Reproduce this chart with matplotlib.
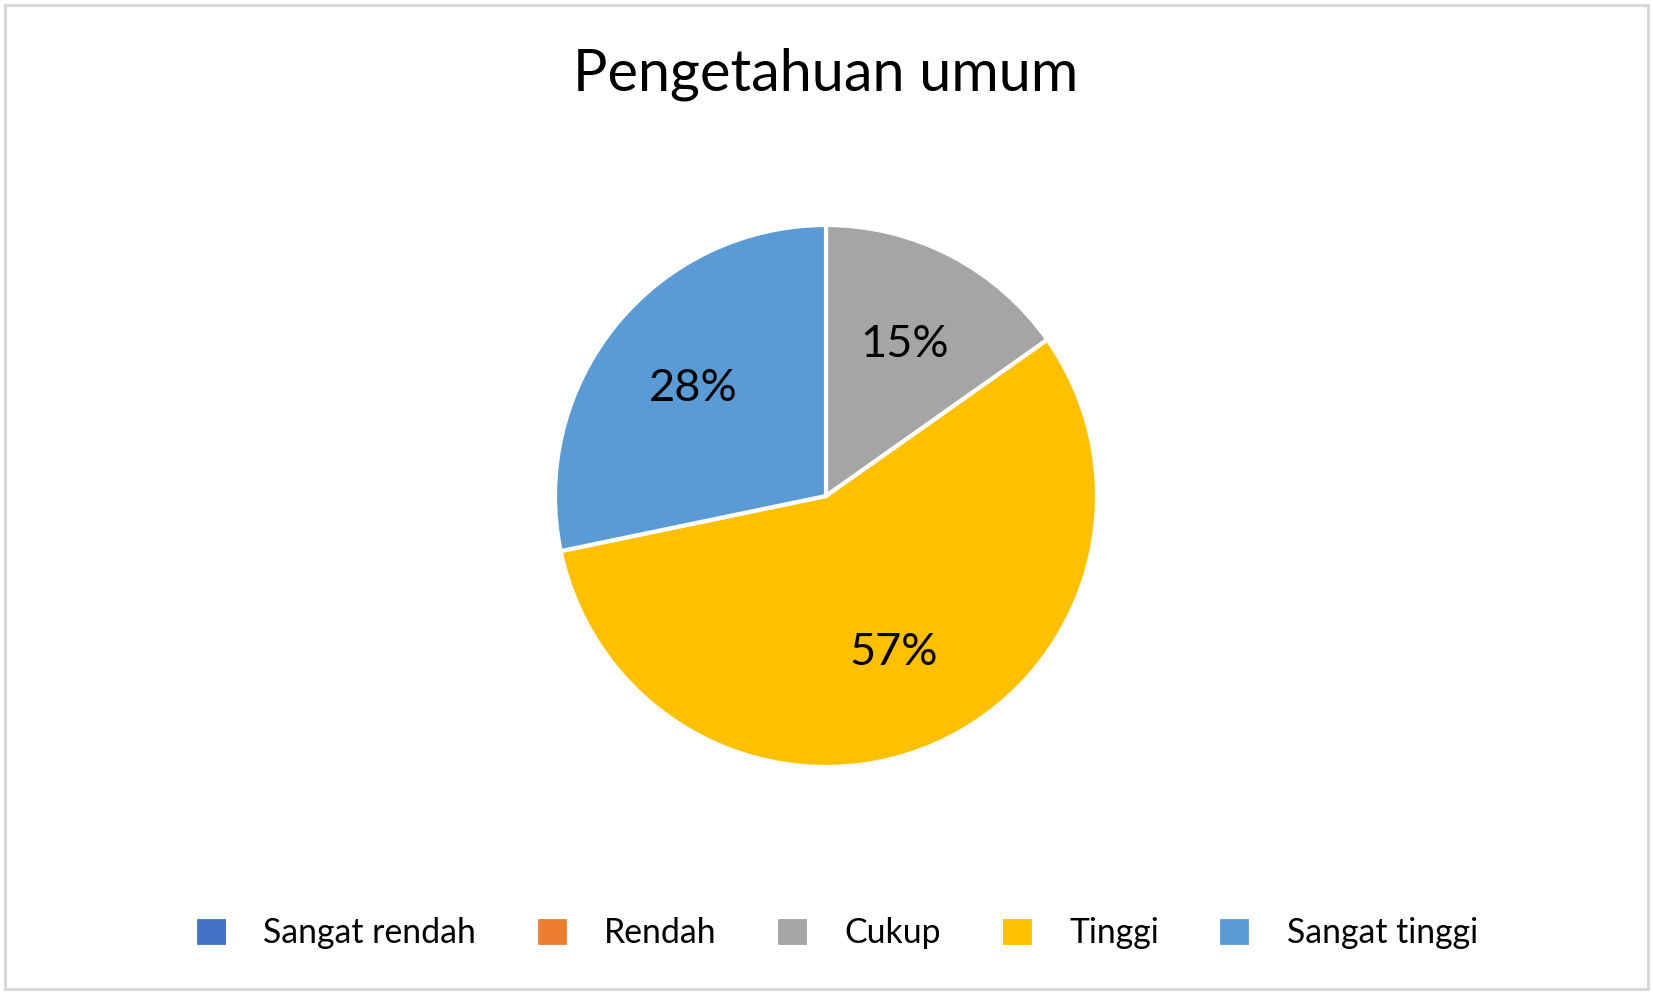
import matplotlib as mpl
mpl.use('Agg')
import matplotlib.pyplot as plt
from matplotlib.patches import Rectangle

plt.rcParams['font.family'] = ['Lato', 'DejaVu Sans']

# data
categories = ['Sangat rendah', 'Rendah', 'Cukup', 'Tinggi', 'Sangat tinggi']
counts = [0, 0, 7, 26, 13]
colors = ['#4472C4', '#ED7D31', '#A5A5A5', '#FFC000', '#5B9BD5']
title = 'Pengetahuan umum'

W, H = 1653, 993
fig = plt.figure(figsize=(W / 100, H / 100), dpi=100)

# light grey chart border
fig.patches.append(Rectangle((5 / W, 4 / H), (W - 10) / W, (H - 9) / H,
                             transform=fig.transFigure, fill=False,
                             edgecolor='#d9d9d9', linewidth=2.2))

# pie placed so the centre is at (826, 496) px, radius 271 px
cx, cy, r = 826, 496, 271
ax = fig.add_axes([(cx - r) / W, (H - cy - r) / H, 2 * r / W, 2 * r / H])


def pct(p):
    return '' if p < 0.5 else '%d%%' % round(p)


wedges, texts, autotexts = ax.pie(counts, colors=colors, startangle=90,
                                  counterclock=False, autopct=pct,
                                  pctdistance=0.63,
                                  wedgeprops=dict(edgecolor='white', linewidth=3),
                                  textprops=dict(fontsize=32.5, color='black'))
ax.set_xlim(-1, 1)
ax.set_ylim(-1, 1)
ax.set_aspect('auto')
ax.axis('off')

fig.text(cx / W, 1 - 74 / H, title, ha='center', va='center', fontsize=41.5)

leg = fig.legend(wedges, categories, loc='center',
                 bbox_to_anchor=(0.5 + 10 / W, 1 - 933 / H),
                 ncol=5, frameon=False, fontsize=24.3, handlelength=0.98,
                 handleheight=0.98, handletextpad=1.05, columnspacing=1.76)

plt.savefig('out.png', dpi=100)
